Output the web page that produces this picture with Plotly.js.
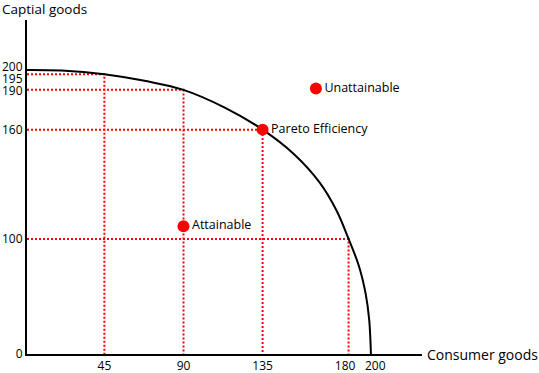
<!DOCTYPE html>
<html>
<head>
<meta charset="utf-8">
<script src="https://cdn.plot.ly/plotly-3.0.1.min.js"></script>
<style>html,body{margin:0;padding:0;background:#fff;}#chart{width:539px;height:373px;}</style>
</head>
<body>
<div id="chart"></div>
<script>
// Production possibility frontier (schematic units)
const curveX = [0, 20, 45, 70, 91, 115, 137, 155, 170, 180, 187, 193, 197, 199, 200];
const curveY = [200, 199.6, 197, 192, 186, 173.5, 158, 141, 121, 101, 81, 62, 42, 24, 0];

// Points on the frontier that get dotted guide lines
const guideX = [45, 91, 137, 187];
const guideY = [197, 186, 158, 81];

// Labelled points
const pointNames = ["Attainable", "Pareto Efficiency", "Unattainable"];
const pointX = [91, 137, 168];
const pointY = [90, 158, 187];

// Tick positions and labels
const xTickPos = [45, 91, 137, 185, 202.5];
const xTickText = ["45", "90", "135", "180", "200"];
const yTickPos = [0, 81, 158, 185.5, 194, 202.3];
const yTickText = ["0", "100", "160", "190", "195", "200"];

const xTitle = "Consumer goods";
const yTitle = "Captial goods";

const FONT = "Open Sans, Liberation Sans, sans-serif";

const gx = [], gy = [];
guideX.forEach((x, i) => {
  gx.push(0, x, x, null);
  gy.push(guideY[i], guideY[i], 0, null);
});

const traces = [
  {x: gx, y: gy, mode: "lines", line: {color: "#ff0000", width: 2, dash: "2px,2px"}, hoverinfo: "skip", showlegend: false, cliponaxis: false},
  {x: curveX, y: curveY, mode: "lines", line: {color: "#000", width: 2, shape: "spline", smoothing: 1}, showlegend: false, cliponaxis: false},
  {x: pointX, y: pointY, text: pointNames, mode: "markers+text", textposition: "middle right",
   marker: {color: "#ff0000", size: 12}, textfont: {family: FONT, size: 12.5, color: "#000"}, showlegend: false, cliponaxis: false}
];

const layout = {
  width: 539, height: 373,
  margin: {l: 27, r: 117, t: 20, b: 19},
  paper_bgcolor: "#fff", plot_bgcolor: "#fff",
  font: {family: FONT, size: 12, color: "#000"},
  xaxis: {range: [0, 229.7], showgrid: false, zeroline: false, showline: true, linecolor: "#000", linewidth: 2,
          tickmode: "array", tickvals: xTickPos, ticktext: xTickText, ticks: "", fixedrange: true,
          tickfont: {family: FONT, size: 12, color: "#000"}},
  yaxis: {range: [0, 235.2], showgrid: false, zeroline: false, showline: true, linecolor: "#000", linewidth: 2,
          tickmode: "array", tickvals: yTickPos, ticktext: yTickText, ticks: "", fixedrange: true,
          tickfont: {family: FONT, size: 12, color: "#000"}},
  annotations: [
    {text: xTitle, xref: "paper", yref: "paper", x: 1, y: 0, xanchor: "left", yanchor: "middle", xshift: 3, showarrow: false,
     font: {family: FONT, size: 14, color: "#000"}},
    {text: yTitle, xref: "paper", yref: "paper", x: 0, y: 1, xanchor: "left", yanchor: "bottom", xshift: -27, yshift: 0, showarrow: false,
     font: {family: FONT, size: 13.5, color: "#000"}}
  ]
};

Plotly.newPlot("chart", traces, layout, {displayModeBar: false, staticPlot: true});
</script>
</body>
</html>
